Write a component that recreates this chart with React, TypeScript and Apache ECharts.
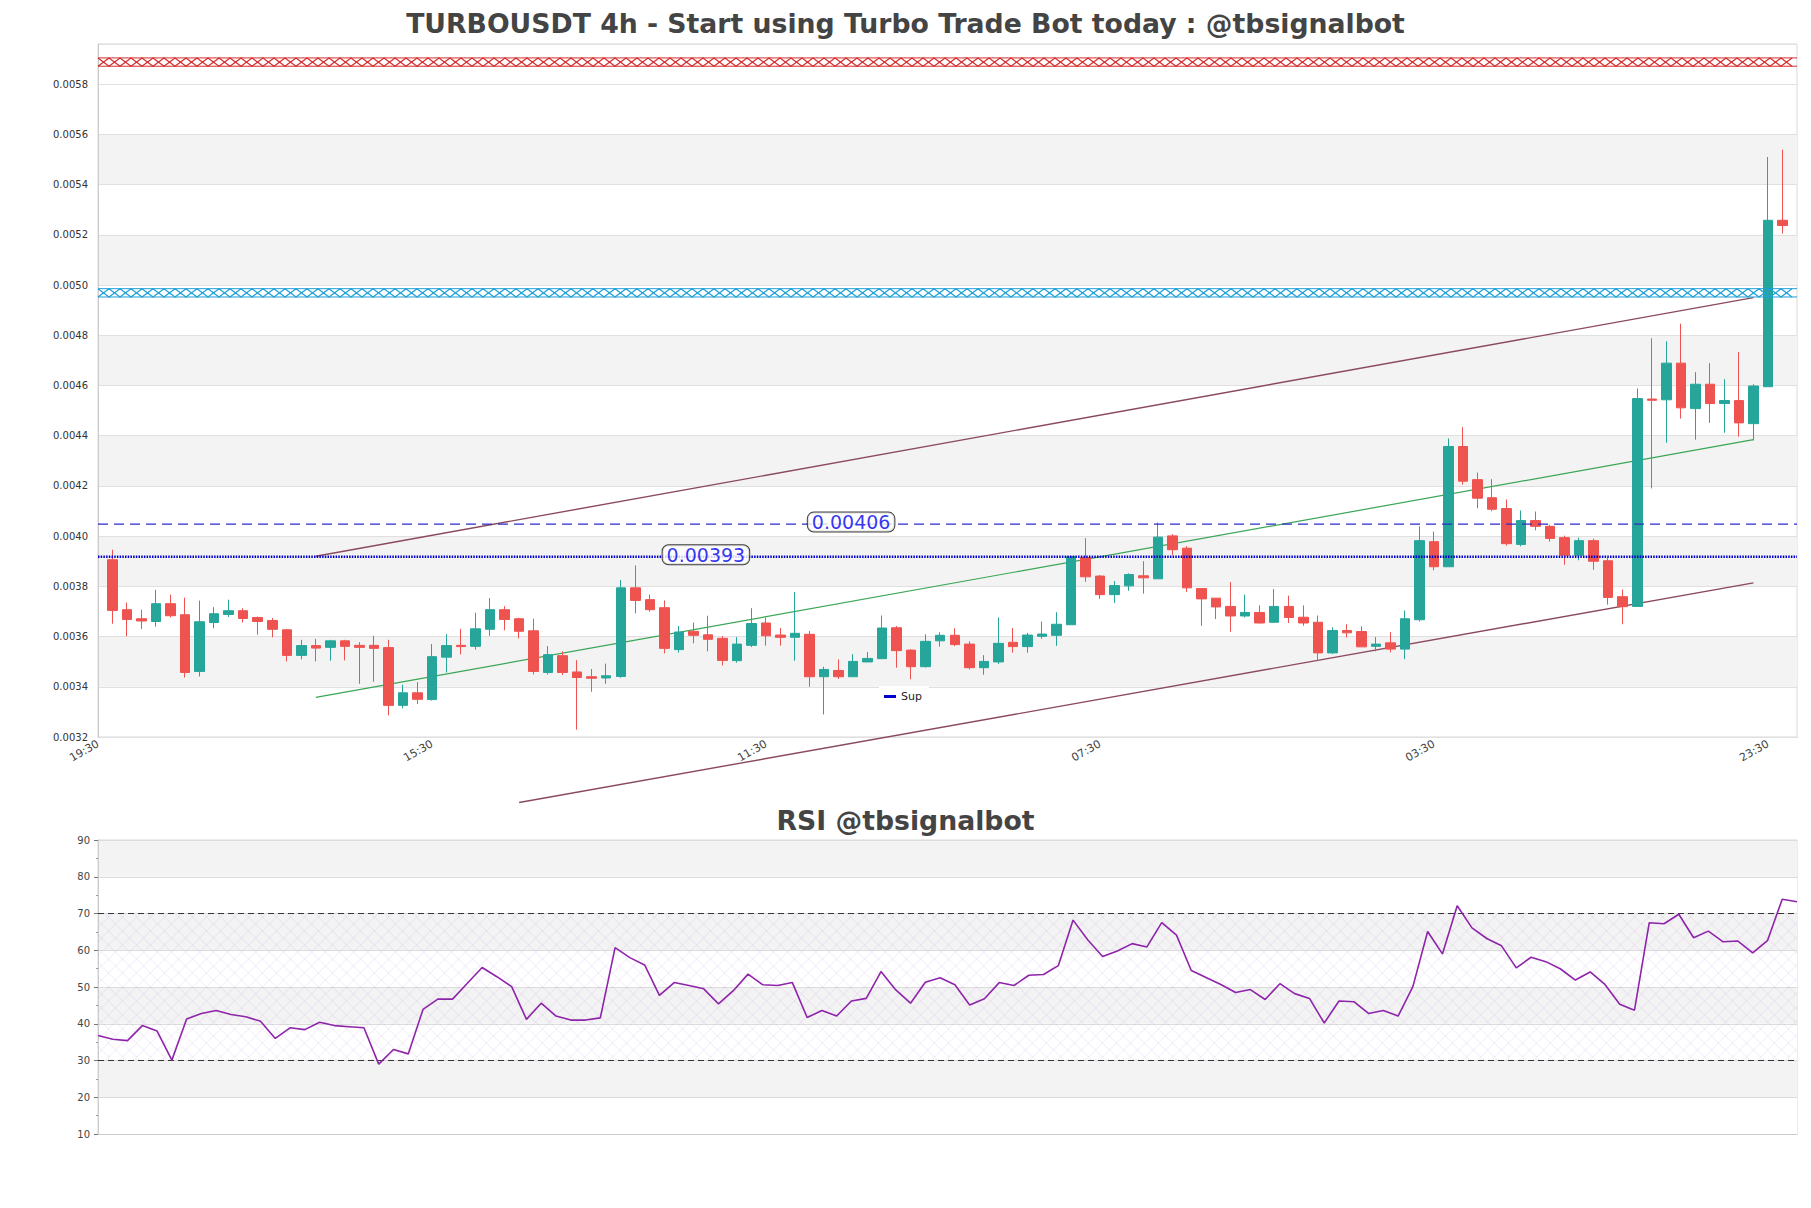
import React, { useEffect, useRef } from "react";
import * as echarts from "echarts";

// ---- candle data (index 0 .. 115, 4h candles) ----
const opens = [
  0.003906, 0.003707, 0.003671, 0.00366, 0.003731, 0.003687, 0.003461, 0.003656, 0.003688, 0.003703,
  0.003676, 0.003664, 0.003627, 0.003525, 0.003564, 0.003557, 0.003583, 0.003565, 0.003565, 0.003556,
  0.003326, 0.003376, 0.003349, 0.003518, 0.003565, 0.003561, 0.003629, 0.003707, 0.003671, 0.003623,
  0.003457, 0.003524, 0.003459, 0.00344, 0.003435, 0.003441, 0.003794, 0.003747, 0.003715, 0.003548,
  0.003621, 0.003607, 0.003593, 0.003504, 0.003565, 0.003654, 0.003606, 0.003597, 0.003609, 0.00344,
  0.003465, 0.00344, 0.003499, 0.003512, 0.003635, 0.003546, 0.00348, 0.003583, 0.003605, 0.00357,
  0.003476, 0.003499, 0.003577, 0.00356, 0.003601, 0.003605, 0.003647, 0.003915, 0.003841, 0.003767,
  0.003802, 0.003842, 0.00383, 0.004001, 0.003952, 0.003791, 0.003753, 0.00372, 0.003682, 0.003696,
  0.003657, 0.00372, 0.003677, 0.003657, 0.003535, 0.003624, 0.00362, 0.003561, 0.003575, 0.00355,
  0.003667, 0.003978, 0.003878, 0.004357, 0.004225, 0.004153, 0.00411, 0.003967, 0.004062, 0.004039,
  0.003994, 0.003924, 0.003982, 0.003902, 0.003759, 0.00372, 0.004546, 0.004543, 0.004689, 0.004508,
  0.004605, 0.004528, 0.00454, 0.004448, 0.004595, 0.005258,
];
const closes = [
  0.003704, 0.003668, 0.003662, 0.003731, 0.003683, 0.003457, 0.003659, 0.003691, 0.003703, 0.003672,
  0.00366, 0.003629, 0.003525, 0.003564, 0.003554, 0.003583, 0.003561, 0.003557, 0.003553, 0.003326,
  0.003376, 0.00335, 0.00352, 0.003564, 0.00356, 0.003631, 0.003707, 0.003668, 0.003621, 0.003461,
  0.003528, 0.003457, 0.003437, 0.003434, 0.003444, 0.003794, 0.003744, 0.003707, 0.003553, 0.003618,
  0.003605, 0.003589, 0.003505, 0.00357, 0.003652, 0.003603, 0.003597, 0.003613, 0.00344, 0.003469,
  0.00344, 0.003501, 0.003513, 0.003634, 0.003544, 0.00348, 0.003581, 0.003605, 0.003568, 0.003476,
  0.003501, 0.003573, 0.00356, 0.003606, 0.00361, 0.003649, 0.003918, 0.003838, 0.003767, 0.003803,
  0.003847, 0.003834, 0.003996, 0.003946, 0.003794, 0.00375, 0.003718, 0.003682, 0.003696, 0.003654,
  0.00372, 0.003676, 0.003654, 0.003535, 0.003624, 0.003615, 0.003559, 0.00357, 0.00355, 0.003671,
  0.003982, 0.003878, 0.004357, 0.004219, 0.004151, 0.004107, 0.00397, 0.004062, 0.004039, 0.003991,
  0.003924, 0.003982, 0.0039, 0.003756, 0.003719, 0.004548, 0.004541, 0.004689, 0.004511, 0.004605,
  0.004528, 0.00454, 0.004451, 0.004598, 0.005258, 0.005237,
];
const lows = [
  0.003651, 0.003601, 0.00363, 0.00364, 0.003676, 0.003437, 0.003441, 0.003633, 0.003678, 0.003656,
  0.003607, 0.003597, 0.003501, 0.003509, 0.003501, 0.003504, 0.003505, 0.003412, 0.00342, 0.003286,
  0.003314, 0.003331, 0.003345, 0.003457, 0.003529, 0.003548, 0.003603, 0.003625, 0.003593, 0.003449,
  0.003449, 0.003447, 0.003229, 0.00338, 0.003412, 0.003436, 0.003692, 0.003699, 0.003533, 0.003536,
  0.003573, 0.003541, 0.003485, 0.003496, 0.003558, 0.003564, 0.003564, 0.003504, 0.0034, 0.00329,
  0.003431, 0.00344, 0.003499, 0.003512, 0.003476, 0.00343, 0.003477, 0.00356, 0.003562, 0.003469,
  0.003448, 0.003491, 0.003536, 0.003536, 0.003591, 0.003563, 0.003647, 0.003818, 0.00375, 0.003734,
  0.003782, 0.003771, 0.00383, 0.003924, 0.003777, 0.003643, 0.00367, 0.003619, 0.003676, 0.003652,
  0.003654, 0.003654, 0.003643, 0.003502, 0.003531, 0.003596, 0.003559, 0.003541, 0.003537, 0.00351,
  0.00366, 0.003864, 0.003878, 0.004205, 0.004111, 0.004099, 0.003962, 0.003959, 0.004023, 0.003978,
  0.003886, 0.003904, 0.003866, 0.003727, 0.003649, 0.00372, 0.00419, 0.004372, 0.004468, 0.004384,
  0.004451, 0.004412, 0.004396, 0.004381, 0.004595, 0.005205,
];
const highs = [
  0.003946, 0.003735, 0.003707, 0.003786, 0.003767, 0.003755, 0.003743, 0.003717, 0.003747, 0.003713,
  0.00368, 0.003674, 0.00363, 0.003587, 0.003591, 0.003587, 0.003587, 0.003578, 0.003603, 0.003587,
  0.003408, 0.003419, 0.00357, 0.00361, 0.003631, 0.003695, 0.003753, 0.003721, 0.003675, 0.003671,
  0.003562, 0.003541, 0.003506, 0.003471, 0.003492, 0.003825, 0.003883, 0.003767, 0.003744, 0.003642,
  0.003656, 0.003683, 0.003602, 0.003598, 0.003713, 0.003676, 0.003634, 0.003777, 0.003622, 0.00348,
  0.003509, 0.00353, 0.003538, 0.003684, 0.003642, 0.00355, 0.003609, 0.003617, 0.003633, 0.003581,
  0.003526, 0.003676, 0.003634, 0.003615, 0.00366, 0.003697, 0.00392, 0.003992, 0.003845, 0.003821,
  0.003852, 0.0039, 0.004054, 0.004008, 0.00396, 0.003791, 0.003753, 0.003817, 0.003767, 0.003724,
  0.003789, 0.003763, 0.003724, 0.003684, 0.003637, 0.003649, 0.003641, 0.003598, 0.003618, 0.003704,
  0.004039, 0.004018, 0.004389, 0.004434, 0.004253, 0.004227, 0.004146, 0.004102, 0.004098, 0.004046,
  0.004002, 0.003994, 0.00399, 0.003913, 0.003787, 0.004588, 0.004788, 0.004776, 0.004846, 0.004653,
  0.004689, 0.004625, 0.004733, 0.004605, 0.00551, 0.005539,
];

// ---- RSI (one value per candle) ----
const rsi = [
  36.8, 35.8, 35.4, 39.5, 38.0, 30.1, 41.3, 42.8, 43.6, 42.5,
  41.9, 40.7, 36.0, 38.9, 38.4, 40.4, 39.5, 39.2, 38.9, 29.0,
  33.0, 31.8, 43.9, 46.7, 46.7, 51.0, 55.3, 52.8, 50.1, 41.2,
  45.6, 42.1, 41.0, 41.0, 41.6, 60.7, 58.0, 56.0, 47.7, 51.2,
  50.4, 49.5, 45.4, 49.0, 53.5, 50.6, 50.4, 51.2, 41.7, 43.6,
  42.1, 46.2, 46.9, 54.2, 49.2, 45.6, 51.3, 52.5, 50.6, 45.1,
  46.8, 51.2, 50.4, 53.2, 53.4, 55.8, 68.2, 62.8, 58.3, 59.8,
  61.8, 60.9, 67.5, 64.1, 54.5, 52.6, 50.7, 48.5, 49.3, 46.6,
  50.9, 48.2, 46.9, 40.2, 46.2, 46.0, 42.8, 43.6, 42.1, 50.1,
  65.1, 59.0, 72.1, 66.1, 63.2, 61.2, 55.2, 58.1, 56.9, 54.9,
  51.9, 54.1, 50.7, 45.3, 43.7, 67.5, 67.2, 69.8, 63.4, 65.2,
  62.3, 62.5, 59.3, 62.6, 73.9, 73.2,
];

// ---- axis ticks ----
const xTickLabels = ["19:30", "15:30", "11:30", "07:30", "03:30", "23:30"];
const xTickCandleIndex = [-1, 22, 45, 68, 91, 114];
const priceMin = 0.0032;
const priceMax = 0.00596;
const priceStep = 0.0002;
const rsiTicks = [10, 90, 10]; // min, max, step
const rsiLevels = [30, 70];

// ---- levels / lines ----
const supLevel = 0.003918;
const resLevel = 0.004048;
const priceTags = [
  { candle: 41, level: 0.003918, text: "0.00393" },
  { candle: 51, level: 0.004048, text: "0.00406" },
];
const redZone = 0.005888;
const blueZone = 0.004969;
const zoneHalf = 0.0000165;
const upperTrend = [[14, 0.00392], [113, 0.00495]];
const midTrend = [[14, 0.003358], [113, 0.004384]];
const lowerTrend = [[28, 0.002939], [113, 0.003814]];
const grayBands = [
  [0.0034, 0.0036], [0.0038, 0.004], [0.0042, 0.0044],
  [0.0046, 0.0048], [0.005, 0.0052], [0.0054, 0.0056],
];

const mainTitle = "TURBOUSDT 4h - Start using Turbo Trade Bot today : @tbsignalbot";
const rsiTitle = "RSI @tbsignalbot";

const FONT = "DejaVu Sans";
const CAT_COUNT = opens.length + 2; // slot before first candle and after last
const cats = Array.from({ length: CAT_COUNT }, (_, i) => String(i));
const tickCats = xTickCandleIndex.map((i) => i + 1);
const labelMap: Record<string, string> = {};
tickCats.forEach((c, k) => (labelMap[String(c)] = xTickLabels[k]));

const candleData: any[] = ["-"].concat(
  opens.map((o, i) => [o, closes[i], lows[i], highs[i]]) as any
);

function shiftPts(pts: number[][]) {
  return pts.map(([i, v]) => [i + 1, v]);
}

function xZone(center: number, color: string) {
  return {
    type: "custom",
    xAxisIndex: 0,
    yAxisIndex: 0,
    z: 6,
    silent: true,
    data: [[0, center]],
    renderItem: (_p: any, api: any) => {
      const a = api.coord([0, center + zoneHalf]);
      const b = api.coord([CAT_COUNT - 1, center - zoneHalf]);
      const x0 = a[0], y0 = a[1], x1 = b[0], y1 = b[1];
      const cw = 11;
      const pa: number[][] = [];
      const pb: number[][] = [];
      let k = 0;
      for (let x = x0; x <= x1 + 0.01; x += cw, k++) {
        pa.push([x, k % 2 ? y0 : y1]);
        pb.push([x, k % 2 ? y1 : y0]);
      }
      const st = { stroke: color, fill: "none", lineWidth: 1.2 };
      return {
        type: "group",
        children: [
          { type: "polyline", shape: { points: pa }, style: st },
          { type: "polyline", shape: { points: pb }, style: st },
          { type: "line", shape: { x1: x0, y1: y0, x2: x1, y2: y0 }, style: { stroke: color, lineWidth: 1 } },
          { type: "line", shape: { x1: x0, y1: y1, x2: x1, y2: y1 }, style: { stroke: color, lineWidth: 1 } },
        ],
      };
    },
  };
}

function rsiHatch() {
  return {
    type: "custom",
    xAxisIndex: 1,
    yAxisIndex: 1,
    z: 1,
    silent: true,
    data: [[0, 50]],
    renderItem: (_p: any, api: any) => {
      const a = api.coord([0, rsiLevels[1]]);
      const b = api.coord([rsi.length - 1, rsiLevels[0]]);
      const x0 = a[0], y0 = a[1], x1 = b[0], y1 = b[1];
      const s = 14;
      const st = { stroke: "rgba(190,150,215,0.32)", lineWidth: 0.7 };
      const children: any[] = [];
      for (let c = x0 + y0; c <= x1 + y1; c += s) {
        const xa = Math.max(x0, c - y1), xb = Math.min(x1, c - y0);
        if (xb > xa) children.push({ type: "line", shape: { x1: xa, y1: c - xa, x2: xb, y2: c - xb }, style: st });
      }
      for (let c = x0 - y1; c <= x1 - y0; c += s) {
        const xa = Math.max(x0, c + y0), xb = Math.min(x1, c + y1);
        if (xb > xa) children.push({ type: "line", shape: { x1: xa, y1: xa - c, x2: xb, y2: xb - c }, style: st });
      }
      return { type: "group", children };
    },
  };
}

function App() {
  const ref = useRef<HTMLDivElement>(null);
  useEffect(() => {
    if (!ref.current) return;
    const chart = echarts.init(ref.current, null, { renderer: "svg" });
    const titleStyle = { fontSize: 26.7, fontWeight: "bold", color: "#444", fontFamily: FONT };
    const option: any = {
      animation: false,
      backgroundColor: "#fff",
      textStyle: { fontFamily: FONT },
      title: [
        { text: mainTitle, left: "center", top: 5, textStyle: titleStyle },
        { text: rsiTitle, left: "center", top: 802, textStyle: titleStyle },
      ],
      legend: {
        data: [{ name: "Sup", icon: "rect" }],
        left: 879,
        top: 686,
        itemWidth: 12,
        itemHeight: 3,
        padding: [5, 7, 5, 5],
        backgroundColor: "#fff",
        selectedMode: false,
        itemStyle: { color: "#0000cc", borderWidth: 0 },
        textStyle: { fontSize: 11, color: "#222", fontFamily: FONT },
        z: 4,
      },
      grid: [
        { left: 98, top: 44, width: 1699, height: 693, show: true, borderColor: "#d9d9d9", borderWidth: 1, backgroundColor: "transparent" },
        { left: 98, top: 840, width: 1699, height: 294, show: true, borderColor: "#d9d9d9", borderWidth: 1, backgroundColor: "transparent" },
      ],
      xAxis: [
        {
          type: "category",
          gridIndex: 0,
          data: cats,
          boundaryGap: false,
          axisLine: { show: true, lineStyle: { color: "#ccc" } },
          axisTick: { show: false },
          splitLine: { show: false },
          axisLabel: {
            interval: (i: number) => tickCats.includes(i),
            formatter: (v: string) => labelMap[v] || "",
            rotate: 30,
            fontSize: 11,
            color: "#444",
            margin: 6,
            fontFamily: FONT,
          },
        },
        {
          type: "category",
          gridIndex: 1,
          data: rsi.map((_, i) => String(i)),
          boundaryGap: false,
          axisLine: { show: true, lineStyle: { color: "#ccc" } },
          axisTick: { show: false },
          axisLabel: { show: false },
          splitLine: { show: false },
        },
      ],
      yAxis: [
        {
          type: "value",
          gridIndex: 0,
          min: priceMin,
          max: priceMax,
          interval: priceStep,
          z: 2,
          axisLine: { show: true, lineStyle: { color: "#ccc" } },
          axisTick: { show: false },
          axisLabel: {
            fontSize: 10,
            color: "#333",
            margin: 10,
            showMaxLabel: false,
            fontFamily: FONT,
            formatter: (v: number) => v.toFixed(4),
          },
          splitLine: { show: true, lineStyle: { color: "#e0e0e0", width: 1 } },
        },
        {
          type: "value",
          gridIndex: 1,
          min: rsiTicks[0],
          max: rsiTicks[1],
          interval: rsiTicks[2],
          axisLine: { show: true, lineStyle: { color: "#ccc" } },
          axisTick: { show: true, length: 4, lineStyle: { color: "#777" } },
          minorTick: { show: true, splitNumber: 2, length: 2, lineStyle: { color: "#999" } },
          axisLabel: { fontSize: 10, color: "#444", margin: 8, fontFamily: FONT },
          splitLine: { show: true, lineStyle: { color: "#dcdcdc" } },
          splitArea: { show: true, areaStyle: { color: ["#ffffff", "#f3f3f3"] } },
        },
      ],
      series: [
        {
          type: "custom",
          name: "bands",
          xAxisIndex: 0,
          yAxisIndex: 0,
          z: 1,
          silent: true,
          data: grayBands,
          renderItem: (_p: any, api: any) => {
            const lo = api.value(0);
            const hi = api.value(1);
            const a = api.coord([0, hi]);
            const b = api.coord([CAT_COUNT - 1, lo]);
            return {
              type: "rect",
              shape: { x: a[0], y: a[1], width: b[0] - a[0], height: b[1] - a[1] },
              style: { fill: "#f3f3f3" },
            };
          },
          encode: { x: -1, y: [0, 1] },
        },
        {
          type: "line",
          name: "upper",
          xAxisIndex: 0,
          yAxisIndex: 0,
          data: shiftPts(upperTrend),
          symbol: "none",
          clip: false,
          silent: true,
          z: 4,
          lineStyle: { color: "#8b4a5c", width: 1.4 },
        },
        {
          type: "line",
          name: "lower",
          xAxisIndex: 0,
          yAxisIndex: 0,
          data: shiftPts(lowerTrend),
          symbol: "none",
          clip: false,
          silent: true,
          z: 4,
          lineStyle: { color: "#8b4a5c", width: 1.4 },
        },
        {
          type: "line",
          name: "mid",
          xAxisIndex: 0,
          yAxisIndex: 0,
          data: shiftPts(midTrend),
          symbol: "none",
          clip: false,
          silent: true,
          z: 4,
          lineStyle: { color: "#3aa655", width: 1.2 },
        },
        {
          type: "candlestick",
          name: "price",
          xAxisIndex: 0,
          yAxisIndex: 0,
          data: candleData,
          barWidth: 10,
          z: 5,
          silent: true,
          itemStyle: {
            color: "#26a69a",
            color0: "#ef5350",
            borderColor: "#26a69a",
            borderColor0: "#ef5350",
            borderWidth: 1,
          },
        },
        {
          type: "line",
          name: "Sup",
          xAxisIndex: 0,
          yAxisIndex: 0,
          data: [[0, supLevel], [CAT_COUNT - 1, supLevel]],
          symbol: "none",
          silent: true,
          z: 6,
          itemStyle: { color: "#0000cc" },
          lineStyle: { color: "#0000cc", width: 2.4, type: [1.5, 1.2] },
        },
        {
          type: "line",
          name: "res",
          xAxisIndex: 0,
          yAxisIndex: 0,
          data: [[0, resLevel], [CAT_COUNT - 1, resLevel]],
          symbol: "none",
          silent: true,
          z: 6,
          lineStyle: { color: "#2b2bc8", width: 1.3, type: [10, 6] },
        },
        xZone(redZone, "#d62c2c"),
        xZone(blueZone, "#1e9fd8"),
        {
          type: "scatter",
          name: "tags",
          xAxisIndex: 0,
          yAxisIndex: 0,
          z: 9,
          silent: true,
          symbolSize: 1,
          itemStyle: { color: "rgba(0,0,0,0)" },
          data: priceTags.map((t) => ({ value: [t.candle + 1, t.level], label: { formatter: t.text } })),
          label: {
            show: true,
            position: "inside",
            offset: [-2, -2],
            color: "#0000ee",
            fontSize: 19,
            lineHeight: 18,
            fontFamily: FONT,
            backgroundColor: "#fff",
            borderColor: "#111",
            borderWidth: 1,
            borderRadius: 6,
            padding: [1, 4, 0, 4],
          },
        },
        {
          type: "line",
          name: "RSI",
          xAxisIndex: 1,
          yAxisIndex: 1,
          data: rsi,
          symbol: "none",
          silent: true,
          z: 5,
          lineStyle: { color: "#8e24aa", width: 1.6 },
          markLine: {
            silent: true,
            symbol: ["none", "none"],
            label: { show: false },
            lineStyle: { color: "#333", type: [6, 4], width: 1.2 },
            data: rsiLevels.map((v) => ({ yAxis: v })),
          },
        },
        rsiHatch(),
      ],
    };
    chart.setOption(option);
    return () => chart.dispose();
  }, []);
  return (
    <div
      ref={ref}
      style={{ position: "absolute", left: 0, top: 0, width: 1811, height: 1208, background: "#fff" }}
    />
  );
}

export default App;
